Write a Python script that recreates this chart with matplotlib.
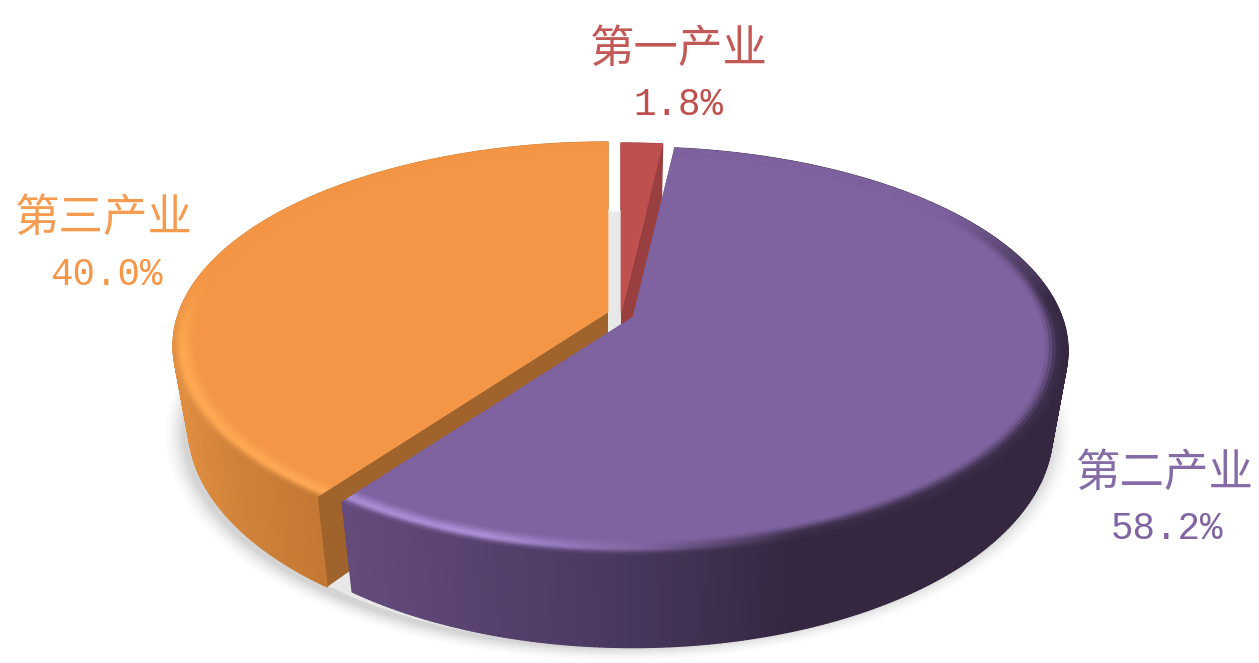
import numpy as np
import matplotlib
matplotlib.use("Agg")
import matplotlib.pyplot as plt
from matplotlib.collections import PolyCollection
from matplotlib.colors import to_rgb

categories = ["第一产业", "第二产业", "第三产业"]
shares = [1.8, 58.2, 40.0]

top_colors = ["#bf504e", "#7f63a1", "#f49645"]
wall_colors = ["#9a3f3f", "#4a3860", "#a0632c"]
text_colors = ["#c0504d", "#8064a2", "#f79646"]
apex_x = [621, 633, 608]
apex_y = [313, 317, 312]
label_name_pos = [(679, 49), (1165, 473), (104, 218)]
label_value_pos = [(678, 105), (1167, 529), (106, 275)]

RX, RY, K, H, SHRINK = 429.0, 198.0, 0.165, 78.0, 0.035


def project(ax_, ay_, r, ang, z=0.0):
    u = r * np.sin(ang)
    v = r * np.cos(ang)
    s = 1.0 / (1.0 + K * v)
    return ax_ + RX * u * s * (1 - SHRINK * z), ay_ + (-RY * v + H * z) * s


def lerp(a, b, t):
    t = np.clip(t, 0, 1)
    return tuple(np.array(a) * (1 - t) + np.array(b) * t)


def side_color(i, x):
    if i == 1:
        stops = [(345, "#644b7c"), (600, "#4b3962"), (800, "#34273f"), (1100, "#34273f")]
    elif i == 2:
        stops = [(175, "#de8d41"), (240, "#cf8139"), (320, "#c27733")]
    else:
        stops = [(600, "#9a3f3f"), (700, "#9a3f3f")]
    xs = [p[0] for p in stops]
    cs = np.array([to_rgb(p[1]) for p in stops])
    return tuple(np.interp(x, xs, cs[:, k]) for k in range(3))


def rim_color(i, x, v):
    top = to_rgb(top_colors[i])
    if i == 1:
        light, dark = to_rgb("#ab90d8"), to_rgb("#3a2c48")
        c = lerp(light, to_rgb("#7f63a1"), (x - 480) / 160)
        c = lerp(c, dark, (x - 640) / 160)
        w = np.clip((0.6 - v) / 0.5, 0, 1)
    elif i == 2:
        c = to_rgb("#ffa952")
        w = np.clip((0.2 - v) / 0.4, 0, 1)
    else:
        return top
    return lerp(top, c, w)


fig = plt.figure(figsize=(12.59, 6.63), dpi=100, facecolor="white")
ax = fig.add_axes([0, 0, 1, 1])
ax.set_xlim(0, 1259)
ax.set_ylim(663, 0)
ax.axis("off")

# soft shadow below the pie
full = np.linspace(0, 2 * np.pi, 361)
for grow, alpha in zip(np.linspace(1.04, 1.0, 12), np.linspace(0.006, 0.022, 12)):
    sx, _ = project(618, 318, grow, full, 0.0)
    _, sy = project(618, 318, grow, full, 1.0)
    ax.fill(sx, sy, color="black", alpha=alpha, lw=0, zorder=1)
sx, sy = project(618, 318, 1.0, full, 0.97)
ax.fill(sx, sy, color="#e8e8e8", lw=0, zorder=1.5)

radii = [0.94, 0.95, 0.958, 0.966, 0.974, 0.982, 0.988, 0.994, 1.0]
edges = np.cumsum([0] + shares) / np.sum(shares) * 2 * np.pi
draw_order = [0, 2, 1]

for n, i in enumerate(draw_order):
    a0, a1 = edges[i], edges[i + 1]
    ax_, ay_ = apex_x[i], apex_y[i]
    angs = np.linspace(a0, a1, max(8, int(np.degrees(a1 - a0) * 1.5)))
    base = 3 + n

    # cut walls
    for ang in (a0, a1):
        ex, ey = project(ax_, ay_, 1, ang)
        bx, by = project(ax_, ay_, 1, ang, 1)
        px, py = project(ax_, ay_, 0, ang, 1)
        ax.fill([ax_, ex, bx, px], [ay_, ey, by, py], color=wall_colors[i], lw=0, zorder=base)

    # outer side
    quads, cols = [], []
    for p, q in zip(angs[:-1], angs[1:]):
        x0, y0 = project(ax_, ay_, 1, p)
        x1, y1 = project(ax_, ay_, 1, q)
        x2, y2 = project(ax_, ay_, 1, q, 1)
        x3, y3 = project(ax_, ay_, 1, p, 1)
        quads.append([(x0, y0), (x1, y1), (x2, y2), (x3, y3)])
        cols.append(side_color(i, (x0 + x1) / 2))
    ax.add_collection(PolyCollection(quads, facecolors=cols, edgecolors=cols, linewidths=1.0, zorder=base + 0.1))

    # flat part of the top face
    fx, fy = project(ax_, ay_, 0.945, angs)
    ax.fill(np.r_[ax_, fx], np.r_[ay_, fy], color=top_colors[i], lw=0.5, zorder=base + 0.2)

    # bevel bands round the rim
    quads, cols = [], []
    top = to_rgb(top_colors[i])
    for p, q in zip(angs[:-1], angs[1:]):
        mid = (p + q) / 2
        mx, _ = project(ax_, ay_, 1, mid)
        vm = np.cos(mid)
        rim = rim_color(i, mx, vm)
        sc = side_color(i, mx)
        for r0, r1 in zip(radii[:-1], radii[1:]):
            rm = (r0 + r1) / 2
            if rm < 0.982:
                t = max(rm - 0.945, 0) / 0.037
                c = lerp(top, rim, t * t * (3 - 2 * t))
            else:
                c = lerp(rim, sc, ((rm - 0.982) / 0.018) * np.clip((0.2 - vm) / 0.4, 0, 1))
            quads.append([project(ax_, ay_, r0, p), project(ax_, ay_, r0, q),
                          project(ax_, ay_, r1, q), project(ax_, ay_, r1, p)])
            cols.append(c)
    ax.add_collection(PolyCollection(quads, facecolors=cols, edgecolors=cols, linewidths=0.5, zorder=base + 0.3))

for i in range(len(categories)):
    ax.text(*label_name_pos[i], categories[i], color=text_colors[i], fontsize=32,
            family=["Noto Sans CJK SC", "DejaVu Sans"], ha="center", va="center", zorder=10, alpha=0.95)
    ax.text(*label_value_pos[i], f"{shares[i]:.1f}%", color=text_colors[i], fontsize=27,
            family="Liberation Mono", ha="center", va="center", zorder=10)

fig.savefig("out.png", dpi=100, facecolor="white")
